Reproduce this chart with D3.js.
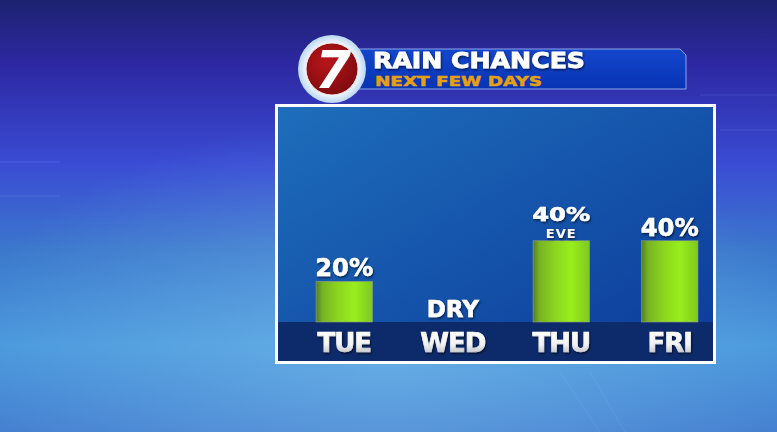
<!DOCTYPE html>
<html>
<head>
<meta charset="utf-8">
<script src="https://cdn.jsdelivr.net/npm/d3@7"></script>
<style>
  html, body { margin: 0; padding: 0; background: #2a40b0; overflow: hidden; }
  svg { display: block; }
  text { font-family: "DejaVu Sans", "Liberation Sans", Arial, sans-serif; font-weight: bold; }
</style>
</head>
<body>
<script>
// data
var days = ['TUE', 'WED', 'THU', 'FRI'];
var chances = [20, 0, 40, 40];
var valueLabels = ['20%', 'DRY', '40%', '40%'];
var subLabels = ['', '', 'EVE', ''];

var W = 777, H = 432;

var svg = d3.select('body').append('svg')
  .attr('width', W)
  .attr('height', H);

var defs = svg.append('defs');

// background gradients
var bg = defs.append('linearGradient').attr('id', 'bg')
  .attr('x1', 0).attr('y1', 0).attr('x2', 0).attr('y2', 1);
[[0, '#1d2270'], [0.15, '#2d28a2'], [0.38, '#3a4cd4'], [0.58, '#3b78cc'],
 [0.8, '#4a98dc'], [1, '#447fd0']].forEach(function(s) {
  bg.append('stop').attr('offset', s[0]).attr('stop-color', s[1]);
});

var glow = defs.append('radialGradient').attr('id', 'glow')
  .attr('cx', 0.5).attr('cy', 0.82).attr('r', 0.55);
glow.append('stop').attr('offset', 0).attr('stop-color', '#8fd2f4').attr('stop-opacity', 0.4);
glow.append('stop').attr('offset', 1).attr('stop-color', '#8fd2f4').attr('stop-opacity', 0);

var panelGrad = defs.append('linearGradient').attr('id', 'panel')
  .attr('x1', 0).attr('y1', 0).attr('x2', 1).attr('y2', 1);
panelGrad.append('stop').attr('offset', 0).attr('stop-color', '#1e6ebb');
panelGrad.append('stop').attr('offset', 1).attr('stop-color', '#0c3a9a');

var bannerGrad = defs.append('linearGradient').attr('id', 'banner')
  .attr('x1', 0).attr('y1', 0).attr('x2', 0).attr('y2', 1);
bannerGrad.append('stop').attr('offset', 0).attr('stop-color', '#1446cc');
bannerGrad.append('stop').attr('offset', 1).attr('stop-color', '#0834b4');

var barGrad = defs.append('linearGradient').attr('id', 'bar')
  .attr('x1', 0).attr('y1', 0).attr('x2', 1).attr('y2', 0);
[[0, '#557f22'], [0.12, '#78b423'], [0.4, '#8cd61f'], [0.68, '#98ee1c'], [1, '#80c820']]
  .forEach(function(s) {
    barGrad.append('stop').attr('offset', s[0]).attr('stop-color', s[1]);
  });

var dayGrad = defs.append('linearGradient').attr('id', 'dayText')
  .attr('x1', 0).attr('y1', 0).attr('x2', 0).attr('y2', 1);
dayGrad.append('stop').attr('offset', 0).attr('stop-color', '#ffffff');
dayGrad.append('stop').attr('offset', 0.55).attr('stop-color', '#f2f2f2');
dayGrad.append('stop').attr('offset', 1).attr('stop-color', '#a9adb5');

var ring = defs.append('radialGradient').attr('id', 'ring');
ring.append('stop').attr('offset', 0.7).attr('stop-color', '#ffffff');
ring.append('stop').attr('offset', 1).attr('stop-color', '#b9d6f2');

var redGrad = defs.append('radialGradient').attr('id', 'red')
  .attr('cx', 0.4).attr('cy', 0.35).attr('r', 0.7);
redGrad.append('stop').attr('offset', 0).attr('stop-color', '#b8161a');
redGrad.append('stop').attr('offset', 1).attr('stop-color', '#7e0a0e');

var shadow = defs.append('filter').attr('id', 'shadow')
  .attr('x', -0.2).attr('y', -0.2).attr('width', 1.4).attr('height', 1.4);
shadow.append('feDropShadow').attr('dx', 1).attr('dy', 1.5)
  .attr('stdDeviation', 1).attr('flood-color', '#000').attr('flood-opacity', 0.6);

// background
svg.append('rect').attr('width', W).attr('height', H).attr('fill', 'url(#bg)');
svg.append('rect').attr('width', W).attr('height', H).attr('fill', 'url(#glow)');

// faint decoration lines on the background
var deco = svg.append('g').attr('stroke', '#9fc0ff').attr('stroke-opacity', 0.15).attr('fill', 'none');
deco.append('line').attr('x1', 0).attr('y1', 162).attr('x2', 60).attr('y2', 162);
deco.append('line').attr('x1', 0).attr('y1', 196).attr('x2', 60).attr('y2', 196);
deco.append('line').attr('x1', 700).attr('y1', 95).attr('x2', 777).attr('y2', 95);
deco.append('line').attr('x1', 720).attr('y1', 130).attr('x2', 777).attr('y2', 130);
deco.append('line').attr('x1', 560).attr('y1', 372).attr('x2', 600).attr('y2', 432);
deco.append('line').attr('x1', 590).attr('y1', 372).attr('x2', 625).attr('y2', 432);

// chart panel
var panel = { x: 275, y: 104, w: 441, h: 260 };
svg.append('rect')
  .attr('x', panel.x + 1.5).attr('y', panel.y + 1.5)
  .attr('width', panel.w - 3).attr('height', panel.h - 3)
  .attr('fill', 'url(#panel)')
  .attr('stroke', '#ffffff').attr('stroke-width', 3);

var baseY = 322;
svg.append('rect')
  .attr('x', panel.x + 3).attr('y', baseY)
  .attr('width', panel.w - 6).attr('height', panel.y + panel.h - 3 - baseY)
  .attr('fill', '#0d2a6b');

// scales
var x = d3.scaleBand()
  .domain(days)
  .range([290, 724])
  .paddingInner(0.48)
  .paddingOuter(0.24);

var y = d3.scaleLinear()
  .domain([0, 100])
  .range([baseY, baseY - 203]);

// bars
svg.append('g').selectAll('rect')
  .data(days.filter(function(d, i) { return chances[i] > 0; }))
  .join('rect')
  .attr('x', function(d) { return x(d); })
  .attr('width', x.bandwidth())
  .attr('y', function(d) { return y(chances[days.indexOf(d)]); })
  .attr('height', function(d) { return baseY - y(chances[days.indexOf(d)]); })
  .attr('fill', 'url(#bar)')
  .attr('stroke', '#8fa08a').attr('stroke-width', 0.6);

// value labels
var cx = function(d) { return x(d) + x.bandwidth() / 2; };

svg.append('g').selectAll('text')
  .data(days)
  .join('text')
  .attr('x', cx)
  .attr('y', function(d, i) {
    var top = y(chances[i]);
    if (chances[i] === 0) return top - 5;
    return subLabels[i] ? top - 20 : top - 5;
  })
  .attr('text-anchor', 'middle')
  .attr('fill', '#ffffff')
  .attr('stroke', '#ffffff').attr('stroke-width', 0.5)
  .attr('font-size', function(d, i) {
    if (chances[i] === 0) return 23;
    return subLabels[i] ? 19 : 24;
  })
  .attr('textLength', function(d, i) { return chances[i] === 0 ? null : 58; })
  .attr('lengthAdjust', 'spacingAndGlyphs')
  .attr('filter', 'url(#shadow)')
  .text(function(d, i) { return valueLabels[i]; });

svg.append('g').selectAll('text')
  .data(days.filter(function(d, i) { return subLabels[i]; }))
  .join('text')
  .attr('x', cx)
  .attr('y', function(d) { return y(chances[days.indexOf(d)]) - 3; })
  .attr('text-anchor', 'middle')
  .attr('fill', '#ffffff')
  .attr('font-size', 13)
  .attr('letter-spacing', 1)
  .attr('filter', 'url(#shadow)')
  .text(function(d) { return subLabels[days.indexOf(d)]; });

// day axis labels
var axis = d3.axisBottom(x).tickSize(0).tickPadding(0);
var axisG = svg.append('g')
  .attr('transform', 'translate(0,' + baseY + ')')
  .call(axis);
axisG.select('.domain').remove();
axisG.selectAll('text')
  .attr('dy', null)
  .attr('y', 30)
  .attr('font-size', 26)
  .attr('letter-spacing', -1)
  .attr('font-family', '"DejaVu Sans", "Liberation Sans", Arial, sans-serif')
  .attr('font-weight', 'bold')
  .attr('fill', 'url(#dayText)')
  .attr('stroke', 'url(#dayText)').attr('stroke-width', 0.7)
  .attr('filter', 'url(#shadow)');

// title banner with clipped top-right corner
var bx0 = 355, bx1 = 686, by0 = 49, by1 = 89, cut = 6;
svg.append('path')
  .attr('d', d3.line()([[bx0, by0], [bx1 - cut, by0], [bx1, by0 + cut], [bx1, by1], [bx0, by1]]) + 'Z')
  .attr('fill', 'url(#banner)')
  .attr('stroke', '#8ea6e6').attr('stroke-width', 1);

svg.append('text')
  .attr('x', 373).attr('y', 68)
  .attr('fill', '#ffffff')
  .attr('stroke', '#ffffff').attr('stroke-width', 0.8)
  .attr('font-size', 21)
  .attr('textLength', 212)
  .attr('lengthAdjust', 'spacingAndGlyphs')
  .attr('filter', 'url(#shadow)')
  .text('RAIN CHANCES');

svg.append('text')
  .attr('x', 375).attr('y', 85.5)
  .attr('fill', '#e8a013')
  .attr('stroke', '#e8a013').attr('stroke-width', 0.5)
  .attr('font-size', 14.5)
  .attr('textLength', 167)
  .attr('lengthAdjust', 'spacingAndGlyphs')
  .text('NEXT FEW DAYS');

// station logo
var logo = svg.append('g').attr('transform', 'translate(332,69)');
logo.append('circle').attr('r', 34).attr('fill', 'url(#ring)');
logo.append('circle').attr('r', 26).attr('fill', 'url(#red)')
  .attr('stroke', '#f4e6e6').attr('stroke-width', 1);
logo.append('text')
  .attr('x', 1).attr('y', 19)
  .attr('text-anchor', 'middle')
  .attr('font-size', 52)
  .attr('font-style', 'italic')
  .attr('fill', '#ffffff')
  .text('7');
</script>
</body>
</html>
